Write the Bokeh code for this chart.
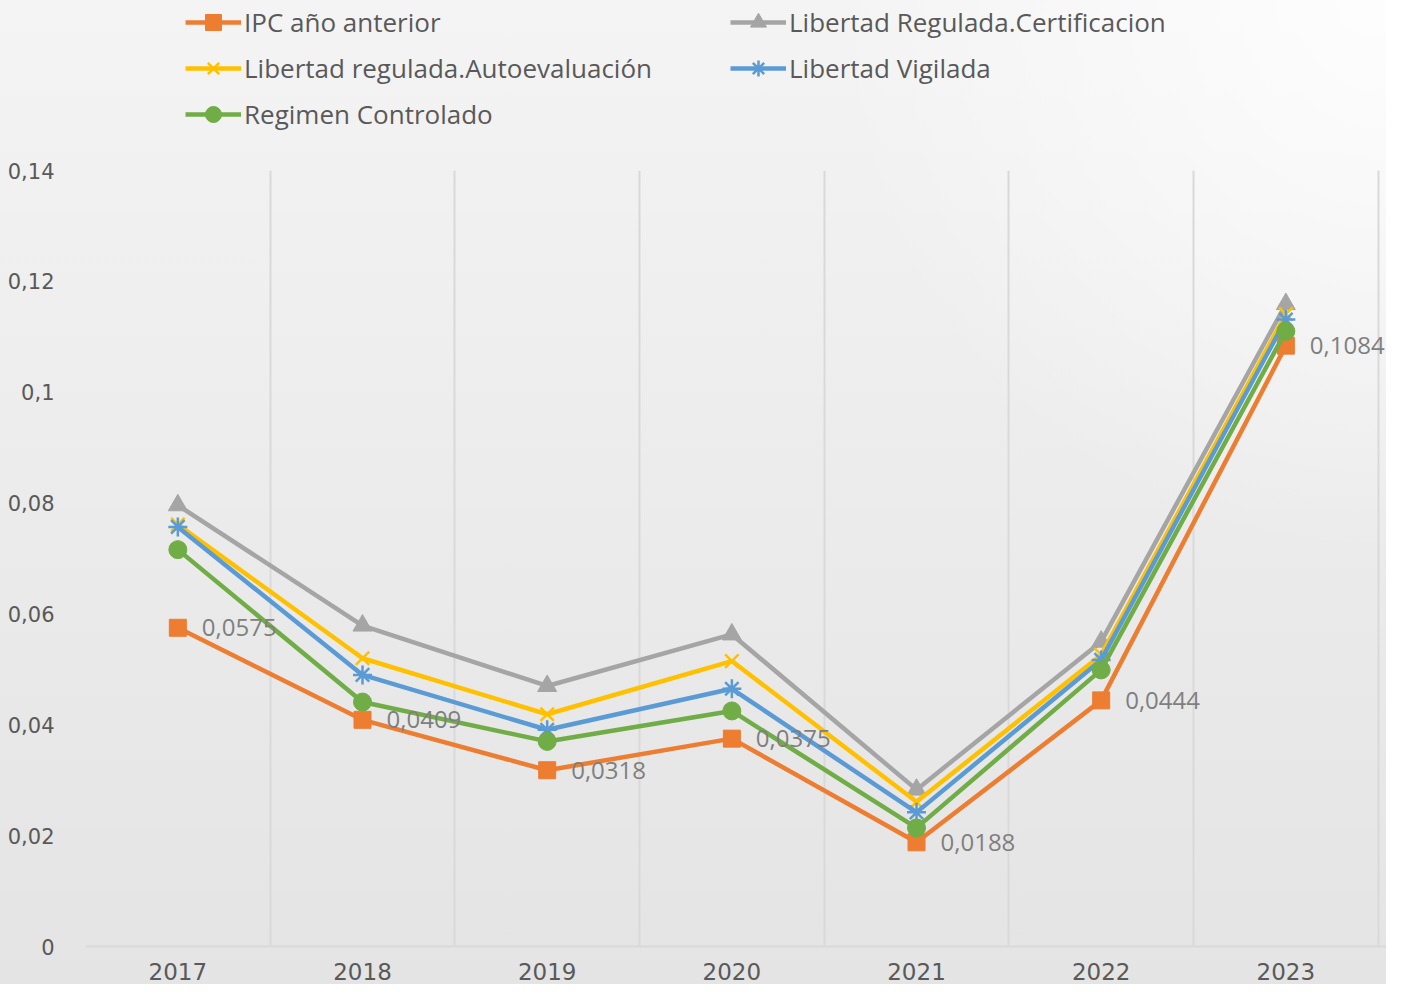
from bokeh.plotting import figure
from bokeh.layouts import column
from bokeh.models import (FixedTicker, Grid, Legend, LegendItem,
                          CustomJSTickFormatter, Range1d, ColumnDataSource)
from bokeh.core.properties import value
from bokeh.embed import file_html
from bokeh.resources import INLINE

# ---- data ----
years = ["2017", "2018", "2019", "2020", "2021", "2022", "2023"]
ipc = [0.0575, 0.0409, 0.0318, 0.0375, 0.0188, 0.0444, 0.1084]
certificacion = [0.0796, 0.0579, 0.0470, 0.0563, 0.0283, 0.0550, 0.1159]
autoevaluacion = [0.0761, 0.0520, 0.0419, 0.0515, 0.0261, 0.0526, 0.1141]
vigilada = [0.0757, 0.0490, 0.0391, 0.0465, 0.0242, 0.0517, 0.1131]
controlado = [0.0716, 0.0441, 0.0370, 0.0425, 0.0214, 0.0499, 0.1110]
y_ticks = [0, 0.02, 0.04, 0.06, 0.08, 0.10, 0.12, 0.14]

series_names = ["IPC año anterior", "Libertad Regulada.Certificacion",
                "Libertad regulada.Autoevaluación", "Libertad Vigilada",
                "Regimen Controlado"]
series_values = [ipc, certificacion, autoevaluacion, vigilada, controlado]
colors = ["#ED7D31", "#A5A5A5", "#FFC000", "#5B9BD5", "#70AD47"]
markers = ["square", "triangle", "x", "asterisk", "circle"]
marker_sizes = [17, 19, 19, 19, 18]

xs = list(range(len(years)))
W = 1386
LEG_H = 158
MAIN_H = 984 - LEG_H
LEFT = 85
GRADIENT = ("radial-gradient(circle at 100% 0%, rgba(255,255,255,0.85) 0px, "
            "rgba(255,255,255,0) 560px), "
            "linear-gradient(to bottom, #f4f4f4 0%, #eaeaea 60%, #e4e4e4 100%)")

# ---------------- main chart ----------------
p = figure(width=W, height=MAIN_H,
           x_range=Range1d(-0.5, len(years) - 0.5 + 0.045),
           y_range=Range1d(y_ticks[0], y_ticks[-1]),
           output_backend="svg", toolbar_location=None,
           min_border_left=LEFT, min_border_right=0,
           min_border_top=12, min_border_bottom=38)
p.background_fill_color = None
p.border_fill_color = None
p.outline_line_color = None
p.xgrid.visible = False
p.ygrid.visible = False

vgrid = Grid(dimension=0,
             ticker=FixedTicker(ticks=[i - 0.5 for i in range(len(years) + 1)]),
             grid_line_color="#d9d9d9", grid_line_width=2)
p.add_layout(vgrid, "center")

p.xaxis.ticker = FixedTicker(ticks=xs)
p.xaxis.major_label_overrides = {i: y for i, y in zip(xs, years)}
p.xaxis.axis_line_color = "#d9d9d9"
p.xaxis.axis_line_width = 2
p.xaxis.major_tick_line_color = None
p.xaxis.minor_tick_line_color = None
p.xaxis.major_label_text_font = "DejaVu Sans"
p.xaxis.major_label_text_font_size = "23px"
p.xaxis.major_label_text_color = "#595959"
p.xaxis.major_label_standoff = 10

p.yaxis.ticker = FixedTicker(ticks=y_ticks)
p.yaxis.formatter = CustomJSTickFormatter(
    code="return (Math.round(tick*100)/100).toString().replace('.', ',');")
p.yaxis.axis_line_color = None
p.yaxis.major_tick_line_color = None
p.yaxis.minor_tick_line_color = None
p.yaxis.major_label_text_font = "DejaVu Sans"
p.yaxis.major_label_text_font_size = "21px"
p.yaxis.major_label_text_color = "#595959"
p.yaxis.major_label_standoff = 25

for vals, col, mk, ms in zip(series_values, colors, markers, marker_sizes):
    src = ColumnDataSource(dict(x=xs, y=vals))
    p.line("x", "y", source=src, line_color=col, line_width=4.5)
    p.scatter("x", "y", source=src, marker=mk, size=ms,
              fill_color=col, line_color=col,
              line_width=2.5 if mk in ("x", "asterisk") else 1)

lab_src = ColumnDataSource(dict(
    x=xs, y=ipc, t=[f"{v:.4f}".replace(".", ",") for v in ipc]))
p.text("x", "y", text="t", source=lab_src, x_offset=24,
       text_baseline="middle", text_align="left",
       text_font=value("Open Sans"), text_font_size="24px",
       text_color="#7f7f7f")

# ---------------- legend strip ----------------
# same series drawn off-range (y range above the data) so only legend glyphs show
lf = figure(width=W, height=LEG_H,
            x_range=Range1d(-0.5, len(years) - 0.5), y_range=Range1d(1, 2),
            output_backend="svg", toolbar_location=None,
            x_axis_type=None, y_axis_type=None,
            min_border_left=LEFT, min_border_right=0,
            min_border_top=0, min_border_bottom=0)
lf.background_fill_color = None
lf.border_fill_color = None
lf.outline_line_color = None
lf.xgrid.visible = False
lf.ygrid.visible = False

items = []
for name, vals, col, mk in zip(series_names, series_values, colors, markers):
    src = ColumnDataSource(dict(x=xs, y=vals))
    ln = lf.line("x", "y", source=src, line_color=col, line_width=4.5)
    sc = lf.scatter("x", "y", source=src, marker=mk,
                    fill_color=col, line_color=col,
                    line_width=2.5 if mk in ("x", "asterisk") else 1)
    items.append(LegendItem(label=name, renderers=[ln, sc]))

ITEM_H = 40
GAP = 6


def make_legend(its, x_left):
    h = len(its) * ITEM_H + (len(its) - 1) * GAP
    return Legend(items=its, location=(x_left - LEFT, LEG_H - 2 - h),
                  glyph_width=56, glyph_height=ITEM_H, label_height=ITEM_H,
                  label_standoff=3, spacing=GAP, padding=0, margin=0,
                  background_fill_alpha=0, border_line_color=None,
                  label_text_font="Open Sans", label_text_font_size="26px",
                  label_text_color="#595959")


lf.add_layout(make_legend([items[0], items[2], items[4]], 185), "center")
lf.add_layout(make_legend([items[1], items[3]], 730), "center")

layout = column(lf, p, spacing=0)
layout.styles = {"background": GRADIENT}
open("out.html", "w").write(file_html(layout, INLINE))
